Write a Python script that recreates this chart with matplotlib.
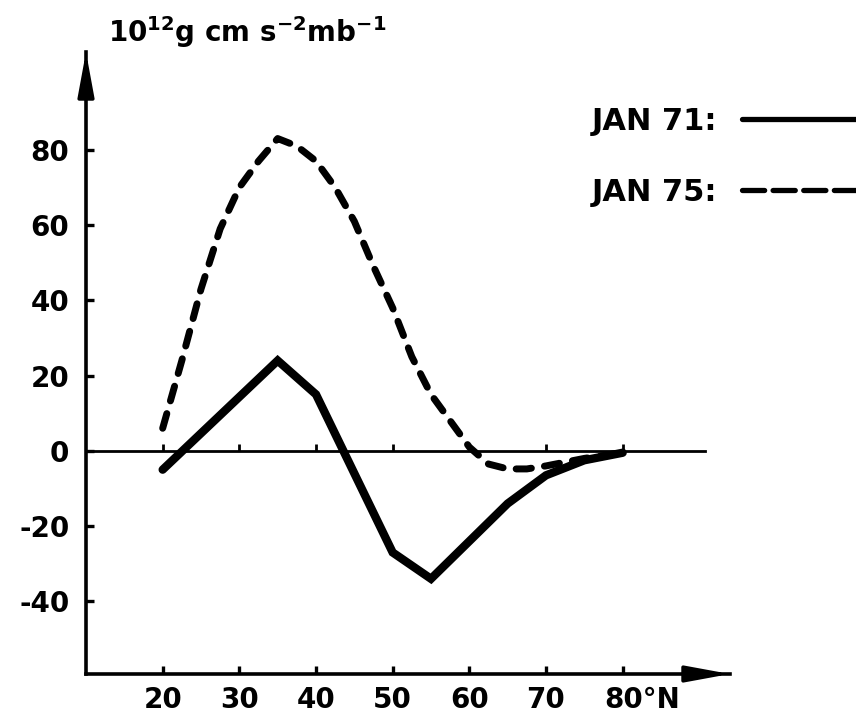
import matplotlib
matplotlib.use("Agg")
import matplotlib.pyplot as plt
from matplotlib.lines import Line2D

# JAN 71 (durchgezogen) und JAN 75 (gestrichelt), 10^12 g cm s^-2 mb^-1
lat_71 = [20, 35, 40, 50, 55, 60, 65, 70, 75, 80]
val_71 = [-5, 24, 15, -27, -34, -24, -14, -6.5, -2.5, -0.5]

lat_75 = [20, 22.5, 25, 27.5, 30, 32.5, 35, 37.5, 40, 42.5, 45, 47.5,
          50, 52.5, 55, 57.5, 60, 62.5, 65, 67.5, 70, 75, 80]
val_75 = [6, 24, 43, 59, 70, 77, 83, 81, 77, 70, 61, 49,
          38, 25, 15, 8, 1, -3.5, -4.8, -4.8, -4, -2, -0.5]

xticks = [20, 30, 40, 50, 60, 70, 80]
xlabels = ["20", "30", "40", "50", "60", "70", ""]
yticks = [80, 60, 40, 20, 0, -20, -40]

plt.rcParams["font.family"] = "DejaVu Sans"
plt.rcParams["font.weight"] = "bold"
plt.rcParams["axes.unicode_minus"] = False

fig = plt.figure(figsize=(8.56, 7.18), dpi=100)
ax = fig.add_axes([86 / 856, 44 / 718, 644 / 856, 622 / 718])
ax.set_xlim(10, 94)
ax.set_ylim(-59.3, 106)

for s in ["top", "right"]:
    ax.spines[s].set_visible(False)
for s in ["left", "bottom"]:
    ax.spines[s].set_linewidth(2.6)

# pfeilspitzen
arrow = dict(arrowstyle="-|>,head_length=1.9,head_width=0.35",
             mutation_scale=14, lw=2.6, color="black", shrinkA=0, shrinkB=0)
ax.annotate("", xy=(0, 1.0), xytext=(0, 0.93), xycoords="axes fraction",
            arrowprops=arrow)
ax.annotate("", xy=(1.0, 0), xytext=(0.93, 0), xycoords="axes fraction",
            arrowprops=arrow)

# nulllinie mit kleinen strichen
ax.plot([10, 90.7], [0, 0], color="black", lw=2.0, zorder=2)
ax.plot(xticks, [0] * len(xticks), linestyle="none", marker=2,
        markersize=5, markeredgewidth=2, color="black")

ax.plot(lat_71, val_71, color="black", lw=6, solid_joinstyle="miter",
        solid_capstyle="round", zorder=3)
ax.plot(lat_75, val_75, color="black", lw=5, linestyle=(0, (2.2, 1.9)),
        dash_capstyle="round", zorder=3)

ax.set_xticks(xticks)
ax.set_xticklabels(xlabels)
ax.set_yticks(yticks)
ax.tick_params(direction="in", length=6, width=2.4, labelsize=20, pad=12)
ax.tick_params(axis="x", pad=9)
ax.annotate("80°N", xy=(80, 0), xycoords=("data", "axes fraction"),
            xytext=(-18, -12), textcoords="offset pixels",
            ha="left", va="top", fontsize=20, fontweight="bold")

fig.text(108 / 856, 1 - 42 / 718,
         r"10$^{\mathbf{12}}$g cm s$^{\mathbf{-2}}$mb$^{\mathbf{-1}}$",
         fontsize=20, fontweight="bold", ha="left", va="baseline")

# legende
h71 = Line2D([], [], color="black", lw=3.8, solid_capstyle="round")
h75 = Line2D([], [], color="black", lw=3.8, linestyle=(0, (4.2, 1.6)),
             dash_capstyle="round")
leg = fig.legend([h71, h75], ["JAN 71:", "JAN 75:"], markerfirst=False,
                 frameon=False, loc="upper right",
                 bbox_to_anchor=(1.02, 1 - 107 / 718),
                 fontsize=22, handlelength=4.3, handletextpad=0.8,
                 labelspacing=1.37, borderpad=0, borderaxespad=0)

fig.savefig("out.png", dpi=100)
